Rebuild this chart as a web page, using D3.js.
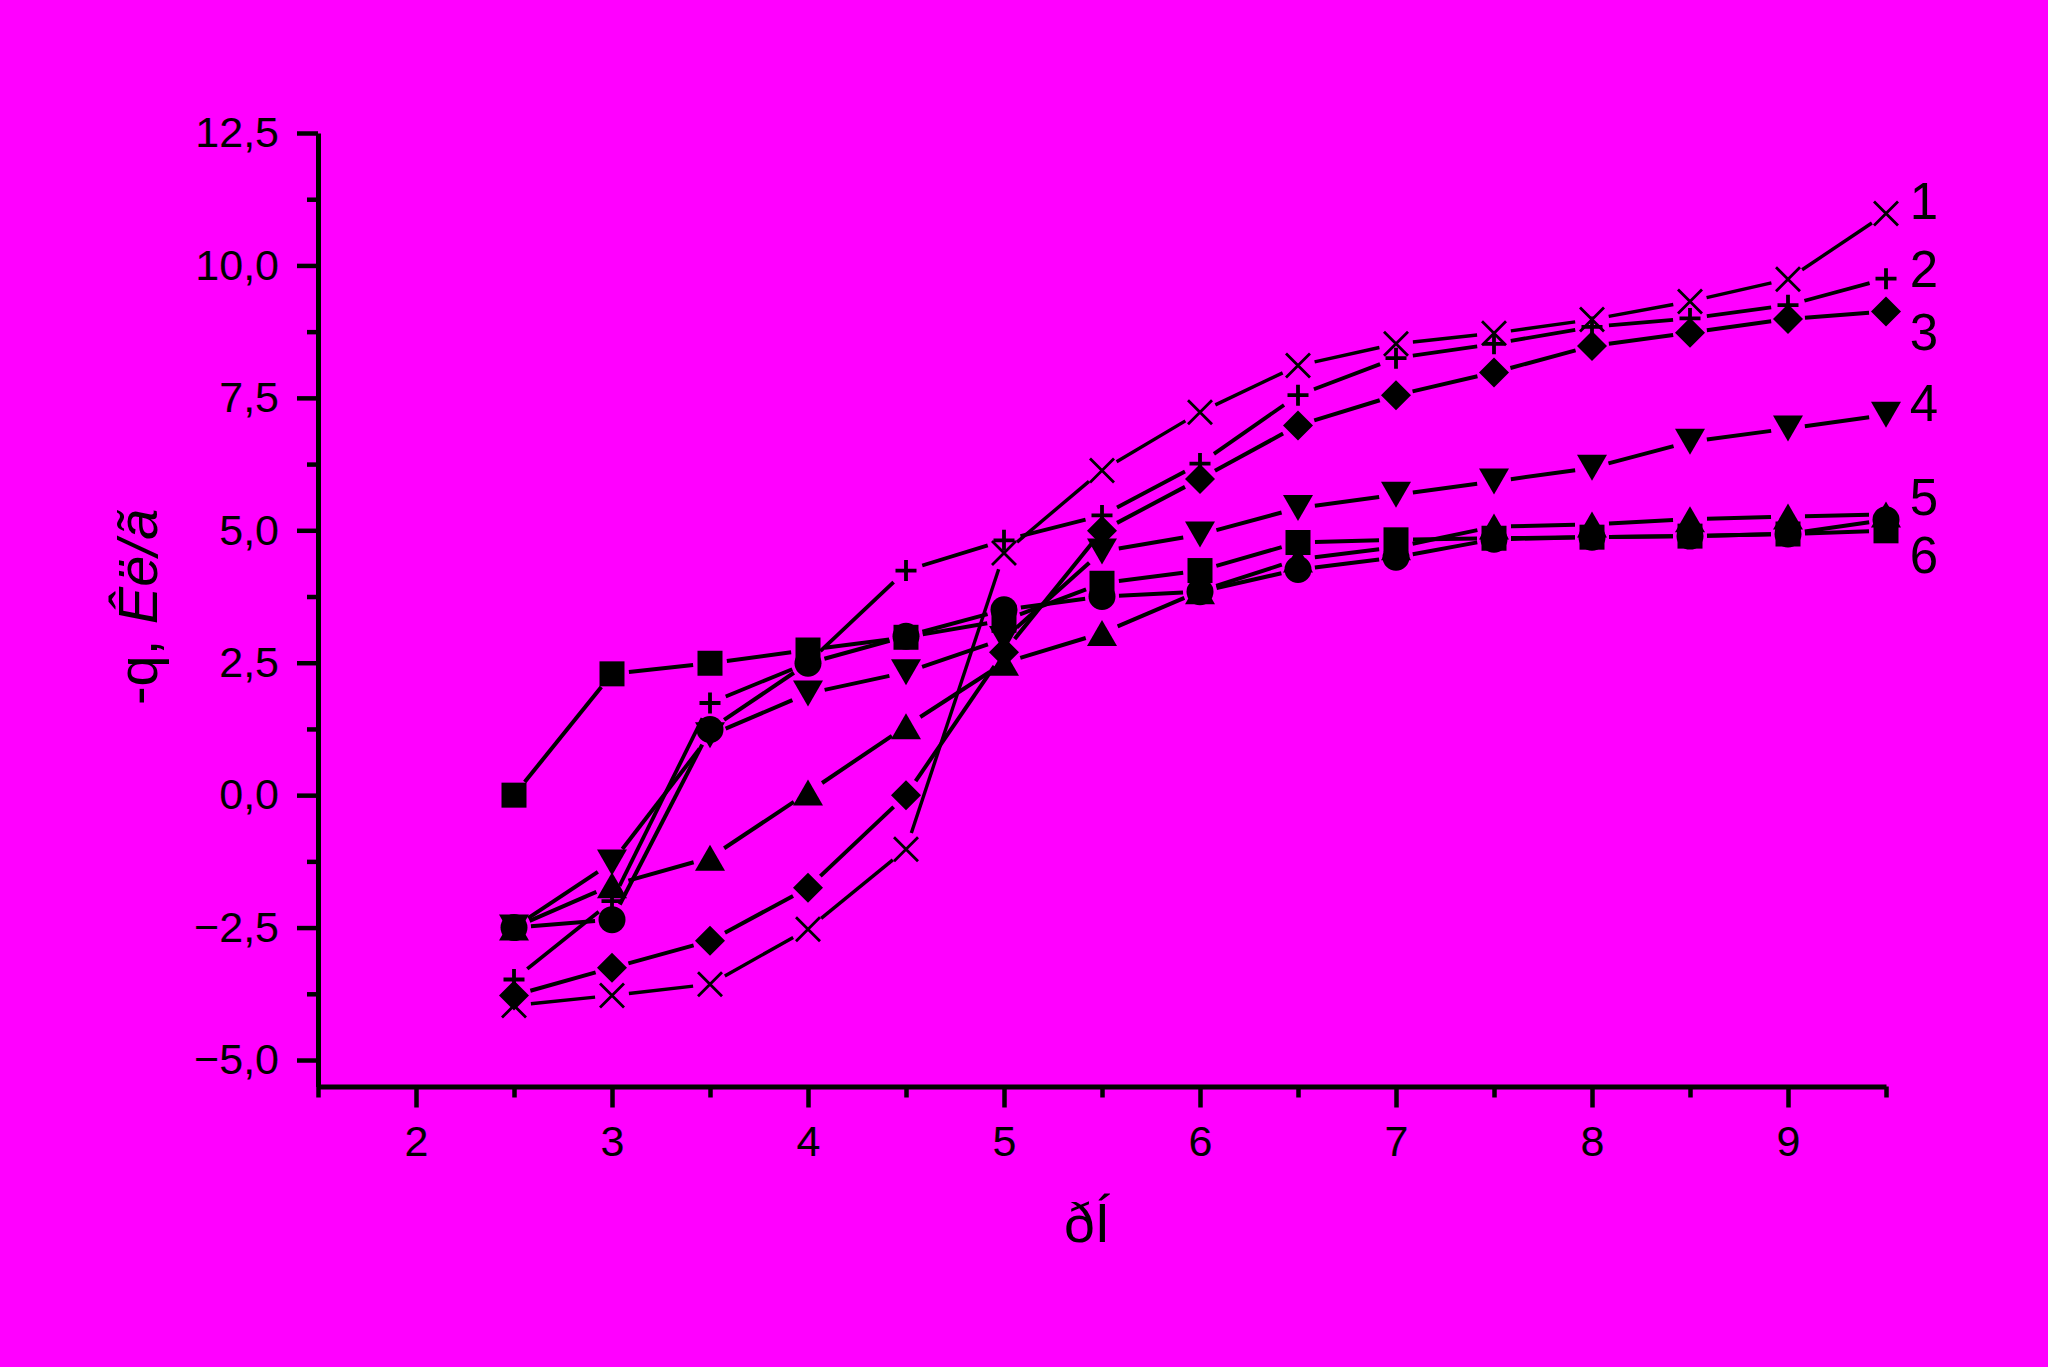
<!DOCTYPE html>
<html>
<head>
<meta charset="utf-8">
<script src="https://cdn.jsdelivr.net/npm/d3@7"></script>
<style>
  html, body { margin: 0; padding: 0; background: #ff00ff; }
  svg { display: block; }
  text { font-family: "Liberation Sans", Arial, sans-serif; fill: #000; }
</style>
</head>
<body>
<svg id="chart" width="2048" height="1367"></svg>
<script>
// ---------------- DATA ----------------
const xValues = [2.5, 3, 3.5, 4, 4.5, 5, 5.5, 6, 6.5, 7, 7.5, 8, 8.5, 9, 9.5];

const seriesCross   = [-3.97, -3.78, -3.57, -2.53, -1.02, 4.57, 6.13, 7.23, 8.11, 8.52, 8.72, 8.98, 9.32, 9.74, 10.98];
const seriesPlus    = [-3.48, -2.00, 1.74, 2.50, 4.24, 4.81, 5.28, 6.26, 7.55, 8.25, 8.52, 8.84, 9.00, 9.25, 9.75];
const seriesDiamond = [-3.78, -3.26, -2.75, -1.75, 0.00, 2.70, 4.99, 5.97, 6.98, 7.55, 7.98, 8.48, 8.73, 8.99, 9.13];
const seriesDownTri = [-2.50, -1.27, 1.13, 1.92, 2.32, 2.95, 4.60, 4.92, 5.42, 5.67, 5.92, 6.18, 6.67, 6.92, 7.18];
const seriesUpTri   = [-2.50, -1.70, -1.18, 0.05, 1.30, 2.50, 3.06, 3.85, 4.45, 4.68, 5.07, 5.11, 5.21, 5.26, 5.30];
const seriesCircle  = [-2.50, -2.35, 1.24, 2.49, 3.00, 3.50, 3.75, 3.84, 4.26, 4.49, 4.83, 4.87, 4.89, 4.93, 5.20];
const seriesSquare  = [0.00, 2.29, 2.49, 2.74, 2.98, 3.30, 4.00, 4.24, 4.77, 4.82, 4.85, 4.87, 4.89, 4.93, 4.99];

const curveLabels = ["1", "2", "3", "4", "5", "6"];
const curveLabelValues = [11.21, 9.94, 8.74, 7.41, 5.63, 4.53];

const xMajorTicks = [2, 3, 4, 5, 6, 7, 8, 9];
const xMinorTicks = [1.5, 2.5, 3.5, 4.5, 5.5, 6.5, 7.5, 8.5, 9.5];
const yMajorTicks = [-5, -2.5, 0, 2.5, 5, 7.5, 10, 12.5];
const yMinorTicks = [-3.75, -1.25, 1.25, 3.75, 6.25, 8.75, 11.25];

const xTitle = "ðÍ";
const yTitleA = "-q, ";
const yTitleB = "Êë/ã";

// ---------------- SETUP ----------------
const svg = d3.select("#chart");
svg.append("rect").attr("width", 2048).attr("height", 1367).attr("fill", "#ff00ff");

const x = d3.scaleLinear().domain([1.5, 9.5]).range([318, 1886]);
const y = d3.scaleLinear().domain([-5.5, 12.5]).range([1086.5, 133]);

const fmtY = v => d3.format(".1f")(v).replace(".", ",");

// ---------------- AXES ----------------
function styleAxis(g) {
  g.selectAll("path.domain").attr("stroke", "#000").attr("stroke-width", 5);
  g.selectAll(".tick line").attr("stroke", "#000").attr("stroke-width", 4.5);
  g.selectAll(".tick text").style("font-size", "43px").attr("fill", "#000");
}

// x minor
svg.append("g").attr("transform", `translate(0,${y(-5.5)})`)
  .call(d3.axisBottom(x).tickValues(xMinorTicks).tickSize(11).tickSizeOuter(0).tickFormat(""))
  .call(styleAxis).call(g => g.select("path.domain").remove());
// x major
svg.append("g").attr("transform", `translate(0,${y(-5.5)})`)
  .call(d3.axisBottom(x).tickValues(xMajorTicks).tickSize(21).tickPadding(18).tickSizeOuter(0).tickFormat(d3.format("d")))
  .call(styleAxis);

// y minor
svg.append("g").attr("transform", `translate(${x(1.5)},0)`)
  .call(d3.axisLeft(y).tickValues(yMinorTicks).tickSize(11).tickSizeOuter(0).tickFormat(""))
  .call(styleAxis).call(g => g.select("path.domain").remove());
// y major
svg.append("g").attr("transform", `translate(${x(1.5)},0)`)
  .call(d3.axisLeft(y).tickValues(yMajorTicks).tickSize(21).tickPadding(18).tickSizeOuter(0).tickFormat(fmtY))
  .call(styleAxis);

// ---------------- TITLES ----------------
svg.append("text")
  .attr("x", 1087).attr("y", 1242)
  .attr("text-anchor", "middle")
  .style("font-size", "55px")
  .text(xTitle);

const yt = svg.append("text")
  .attr("transform", "translate(157,607) rotate(-90)")
  .attr("text-anchor", "middle")
  .style("font-size", "56px");
yt.append("tspan").text(yTitleA);
yt.append("tspan").style("font-style", "italic").text(yTitleB);

// ---------------- SERIES ----------------
const series = [
  { name: "cross",   values: seriesCross,   marker: "cross",   lw: 3.4 },
  { name: "plus",    values: seriesPlus,    marker: "plus",    lw: 3.8 },
  { name: "diamond", values: seriesDiamond, marker: "diamond", lw: 4.0 },
  { name: "downTri", values: seriesDownTri, marker: "downTri", lw: 4.0 },
  { name: "upTri",   values: seriesUpTri,   marker: "upTri",   lw: 4.0 },
  { name: "circle",  values: seriesCircle,  marker: "circle",  lw: 4.0 },
  { name: "square",  values: seriesSquare,  marker: "square",  lw: 4.0 }
];

const GAP = 17;
function gappedSegments(pts, gap) {
  const segs = [];
  for (let i = 0; i < pts.length - 1; i++) {
    const [x1, y1] = pts[i], [x2, y2] = pts[i + 1];
    const dx = x2 - x1, dy = y2 - y1, L = Math.hypot(dx, dy);
    if (L <= 2 * gap) continue;
    const ux = dx / L, uy = dy / L;
    segs.push([[x1 + ux * gap, y1 + uy * gap], [x2 - ux * gap, y2 - uy * gap]]);
  }
  return segs;
}

const lineGen = d3.line();
const linesG = svg.append("g");
series.forEach(s => {
  const pts = xValues.map((xv, i) => [x(xv), y(s.values[i])]);
  linesG.selectAll(null)
    .data(gappedSegments(pts, GAP))
    .join("path")
    .attr("d", d => lineGen(d))
    .attr("fill", "none")
    .attr("stroke", "#000")
    .attr("stroke-width", s.lw);
});

const markerPaths = {
  square: "M-12.5,-12.5H12.5V12.5H-12.5Z",
  diamond: "M0,-15L15,0L0,15L-15,0Z",
  upTri: "M0,-13L15,13L-15,13Z",
  downTri: "M0,13L15,-13L-15,-13Z",
  cross: "M-12,-12L12,12M-12,12L12,-12",
  plus: "M-10.5,0H10.5M0,-10.5V10.5"
};

const markersG = svg.append("g");
series.forEach(s => {
  const g = markersG.append("g");
  const data = xValues.map((xv, i) => ({ x: xv, y: s.values[i] }));
  if (s.marker === "circle") {
    g.selectAll("circle").data(data).join("circle")
      .attr("cx", d => x(d.x)).attr("cy", d => y(d.y)).attr("r", 13.5)
      .attr("fill", "#000");
  } else {
    const stroked = (s.marker === "cross" || s.marker === "plus");
    g.selectAll("path").data(data).join("path")
      .attr("transform", d => `translate(${x(d.x)},${y(d.y)})`)
      .attr("d", markerPaths[s.marker])
      .attr("fill", stroked ? "none" : "#000")
      .attr("stroke", stroked ? "#000" : "none")
      .attr("stroke-width", s.marker === "cross" ? 2.8 : 3.8);
  }
});

// ---------------- CURVE NUMBERS ----------------
svg.append("g").selectAll("text")
  .data(curveLabels)
  .join("text")
  .attr("x", 1924)
  .attr("y", (d, i) => y(curveLabelValues[i]) + 18)
  .attr("text-anchor", "middle")
  .style("font-size", "51px")
  .text(d => d);
</script>
</body>
</html>
